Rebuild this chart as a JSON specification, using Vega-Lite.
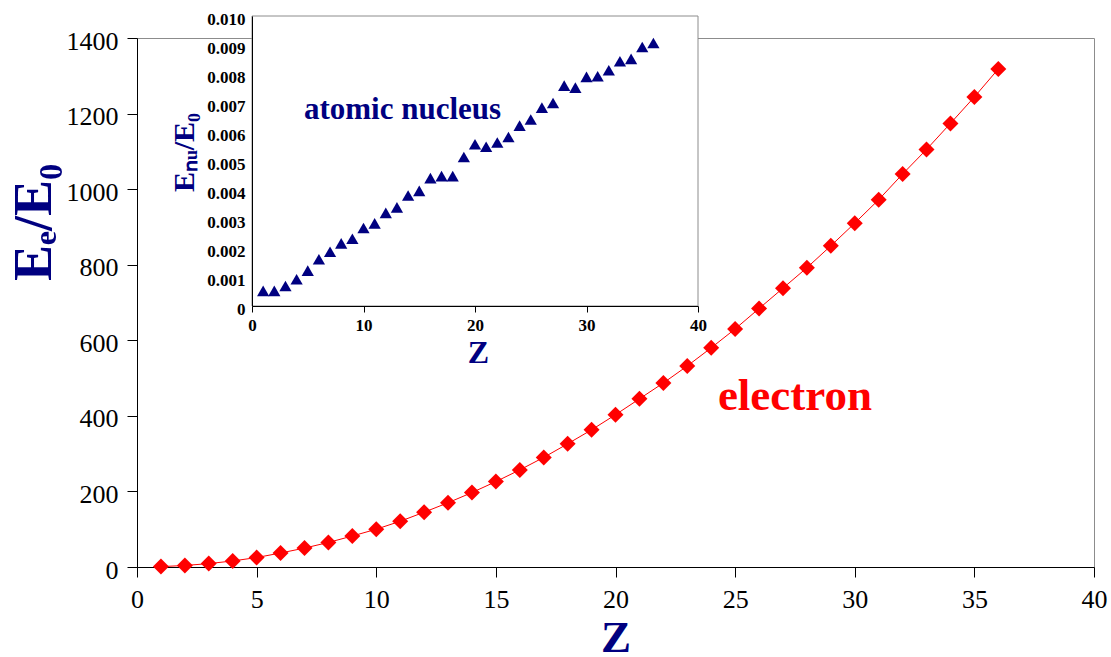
{
  "$schema": "https://vega.github.io/schema/vega-lite/v6.json",
  "width": 957,
  "height": 529,
  "autosize": "none",
  "padding": {"left": 137, "top": 38, "right": 17, "bottom": 90},
  "background": "white",
  "config": {
    "view": {"stroke": "#8c8c8c", "strokeWidth": 1},
    "font": "Liberation Serif",
    "axis": {"domainColor": "black", "tickColor": "black", "grid": false, "labelColor": "black", "labelFont": "Liberation Serif", "titleFont": "Liberation Serif", "domainWidth": 1, "tickWidth": 1}
  },
  "layer": [
    {
      "layer": [
        {
          "data": {"values": [
            {"Z": 1, "E": 1}, {"Z": 2, "E": 4}, {"Z": 3, "E": 9}, {"Z": 4, "E": 16}, {"Z": 5, "E": 25},
            {"Z": 6, "E": 37}, {"Z": 7, "E": 50}, {"Z": 8, "E": 65}, {"Z": 9, "E": 82}, {"Z": 10, "E": 100},
            {"Z": 11, "E": 121}, {"Z": 12, "E": 145}, {"Z": 13, "E": 170}, {"Z": 14, "E": 197}, {"Z": 15, "E": 226},
            {"Z": 16, "E": 257}, {"Z": 17, "E": 290}, {"Z": 18, "E": 326}, {"Z": 19, "E": 363}, {"Z": 20, "E": 403},
            {"Z": 21, "E": 445}, {"Z": 22, "E": 487}, {"Z": 23, "E": 532}, {"Z": 24, "E": 580}, {"Z": 25, "E": 630},
            {"Z": 26, "E": 684}, {"Z": 27, "E": 738}, {"Z": 28, "E": 792}, {"Z": 29, "E": 850}, {"Z": 30, "E": 910},
            {"Z": 31, "E": 972}, {"Z": 32, "E": 1040}, {"Z": 33, "E": 1105}, {"Z": 34, "E": 1174}, {"Z": 35, "E": 1244},
            {"Z": 36, "E": 1318}
          ]},
          "encoding": {
            "x": {"field": "Z", "type": "quantitative",
              "scale": {"domain": [0, 40], "nice": false, "zero": false},
              "axis": {"orient": "bottom", "values": [0, 5, 10, 15, 20, 25, 30, 35, 40], "title": "Z",
                "titleFontSize": 45, "titleFontWeight": "bold", "titleColor": "#000080", "titleY": 84, "titleBaseline": "alphabetic",
                "labelFontSize": 26, "labelFontWeight": "normal", "labelBaseline": "alphabetic", "labelPadding": 30, "tickSize": 10,
                "labelFlush": false, "labelOverlap": false}},
            "y": {"field": "E", "type": "quantitative",
              "scale": {"domain": [0, 1400], "nice": false},
              "axis": {"orient": "left", "values": [0, 200, 400, 600, 800, 1000, 1200, 1400], "format": "d", "title": "Eₑ/E₀",
                "titleFontSize": 54, "titleFontWeight": "bold", "titleColor": "#000080", "titleX": -87, "titleY": 184, "titleAngle": -90,
                "titleAlign": "center", "titleBaseline": "alphabetic",
                "labelFontSize": 26, "labelPadding": 9, "tickSize": 10, "labelFlush": false, "labelOffset": 3, "labelOverlap": false}}
          },
          "layer": [
            {"mark": {"type": "line", "color": "red", "strokeWidth": 1}},
            {"mark": {"type": "point", "shape": "diamond", "filled": true, "color": "red", "size": 256, "opacity": 1}}
          ]
        },
        {
          "data": {"values": [{"label": "electron"}]},
          "mark": {"type": "text", "font": "Liberation Serif", "fontSize": 45, "fontWeight": "bold", "color": "red", "align": "center", "baseline": "alphabetic"},
          "encoding": {
            "x": {"datum": 27.5, "type": "quantitative", "scale": {"domain": [0, 40], "nice": false, "zero": false}},
            "y": {"datum": 415, "type": "quantitative", "scale": {"domain": [0, 1400], "nice": false}},
            "text": {"field": "label"}
          }
        }
      ]
    },
    {
      "layer": [
        {
          "data": {"values": [{"frame": "inset"}]},
          "mark": {"type": "rect", "fill": "white", "stroke": "#8c8c8c", "strokeWidth": 1},
          "encoding": {
            "x": {"datum": 0, "type": "quantitative", "scale": {"domain": [0, 40], "nice": false, "zero": false, "range": [115, 561]}},
            "x2": {"datum": 40},
            "y": {"datum": 0, "type": "quantitative", "scale": {"domain": [0, 0.01], "nice": false, "range": [268, -22]}},
            "y2": {"datum": 0.01}
          }
        },
        {
          "data": {"values": [
            {"Z": 1, "E": 0.00052}, {"Z": 2, "E": 0.00052}, {"Z": 3, "E": 0.00069}, {"Z": 4, "E": 0.00092}, {"Z": 5, "E": 0.00122},
            {"Z": 6, "E": 0.00161}, {"Z": 7, "E": 0.00187}, {"Z": 8, "E": 0.00216}, {"Z": 9, "E": 0.00232}, {"Z": 10, "E": 0.00269},
            {"Z": 11, "E": 0.00285}, {"Z": 12, "E": 0.00321}, {"Z": 13, "E": 0.0034}, {"Z": 14, "E": 0.00381}, {"Z": 15, "E": 0.00397},
            {"Z": 16, "E": 0.00441}, {"Z": 17, "E": 0.00448}, {"Z": 18, "E": 0.00448}, {"Z": 19, "E": 0.00514}, {"Z": 20, "E": 0.00558},
            {"Z": 21, "E": 0.00549}, {"Z": 22, "E": 0.00564}, {"Z": 23, "E": 0.00583}, {"Z": 24, "E": 0.00622}, {"Z": 25, "E": 0.00643},
            {"Z": 26, "E": 0.00684}, {"Z": 27, "E": 0.007}, {"Z": 28, "E": 0.0076}, {"Z": 29, "E": 0.00753}, {"Z": 30, "E": 0.0079},
            {"Z": 31, "E": 0.00792}, {"Z": 32, "E": 0.00813}, {"Z": 33, "E": 0.00844}, {"Z": 34, "E": 0.00852}, {"Z": 35, "E": 0.00893},
            {"Z": 36, "E": 0.00907}
          ]},
          "mark": {"type": "point", "shape": "triangle-up", "filled": true, "color": "#000080", "size": 150, "opacity": 1},
          "encoding": {
            "x": {"field": "Z", "type": "quantitative",
              "scale": {"domain": [0, 40], "nice": false, "zero": false, "range": [115, 561]},
              "axis": {"orient": "bottom", "offset": -261, "values": [0, 10, 20, 30, 40], "title": "Z",
                "titleFontSize": 32, "titleFontWeight": "bold", "titleColor": "#000080", "titleX": 341, "titleY": 56, "titleBaseline": "alphabetic",
                "labelFontSize": 17, "labelFontWeight": "bold", "labelBaseline": "alphabetic", "tickSize": 6, "labelPadding": 18,
                "zindex": 1, "labelFlush": false, "labelOverlap": false}},
            "y": {"field": "E", "type": "quantitative",
              "scale": {"domain": [0, 0.01], "nice": false, "range": [268, -22]},
              "axis": {"orient": "left", "offset": -115, "values": [0, 0.001, 0.002, 0.003, 0.004, 0.005, 0.006, 0.007, 0.008, 0.009, 0.01],
                "labelExpr": "datum.value == 0 ? '0' : format(datum.value, '.3f')", "ticks": false, "labelPadding": 7,
                "labelFontSize": 17, "labelFontWeight": "bold", "labelOffset": 3, "title": "Eₙᵤ/E₀",
                "titleFontSize": 30, "titleFontWeight": "bold", "titleColor": "#000080", "titleX": -59, "titleY": 114, "titleAngle": -90,
                "titleAlign": "center", "titleBaseline": "alphabetic", "zindex": 1, "labelFlush": false, "labelOverlap": false}}
          }
        },
        {
          "data": {"values": [{"label": "atomic nucleus"}]},
          "mark": {"type": "text", "font": "Liberation Serif", "fontSize": 31, "fontWeight": "bold", "color": "#000080", "align": "center", "baseline": "alphabetic"},
          "encoding": {
            "x": {"datum": 13.5, "type": "quantitative", "scale": {"domain": [0, 40], "nice": false, "zero": false, "range": [115, 561]}},
            "y": {"datum": 0.00646, "type": "quantitative", "scale": {"domain": [0, 0.01], "nice": false, "range": [268, -22]}},
            "text": {"field": "label"}
          }
        }
      ]
    }
  ],
  "resolve": {"scale": {"x": "independent", "y": "independent"}, "axis": {"x": "independent", "y": "independent"}}
}
